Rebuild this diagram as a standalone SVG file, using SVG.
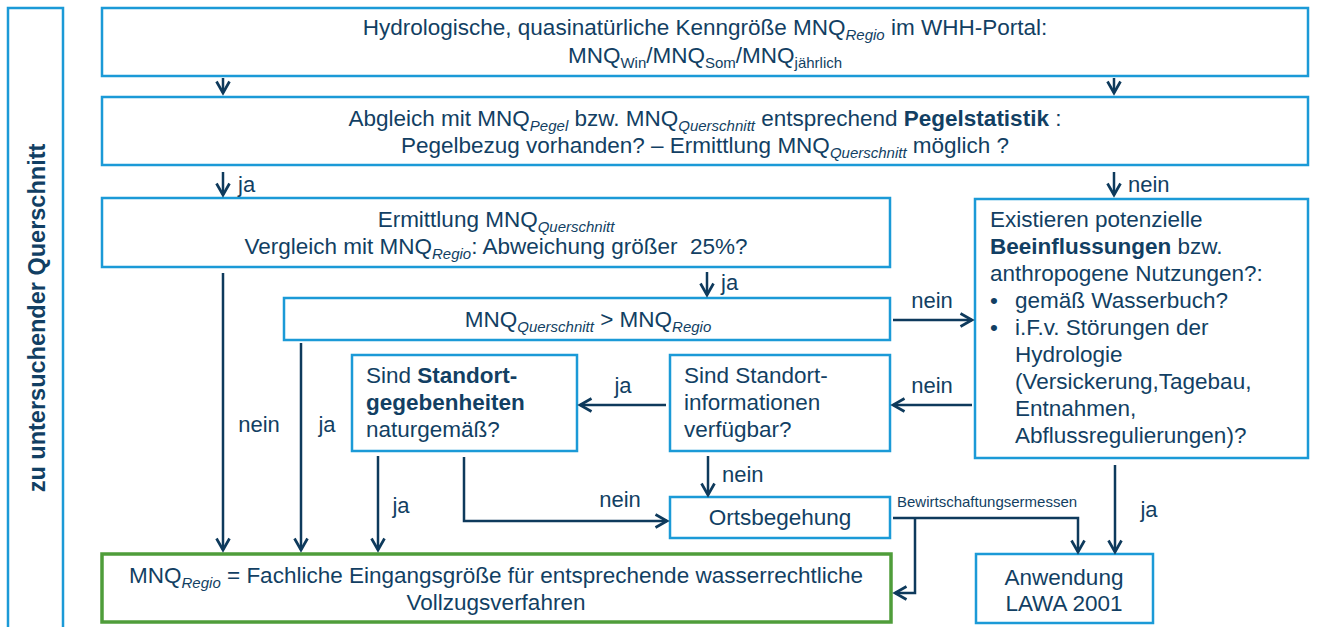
<svg xmlns="http://www.w3.org/2000/svg" width="1317" height="627" viewBox="0 0 1317 627">
<style>
.box{fill:#fff;stroke:#1b9ad7;stroke-width:2.5}
.green{fill:#fff;stroke:#4f9d3a;stroke-width:3.5}
text{font-family:"Liberation Sans",Arial,sans-serif;font-size:22.5px;fill:#123f63}
.c{text-anchor:middle}
.sub{font-size:15px}
.i{font-style:italic}
.b{font-weight:bold}
.side{font-size:23.5px}
.lbl{font-size:22px}
.small{font-size:15px}
.con path,.con line,.con polyline{fill:none;stroke:#0e3a5c;stroke-width:2.5}
</style>
<defs>
<marker id="ah" markerUnits="userSpaceOnUse" markerWidth="18" markerHeight="18" refX="13" refY="8" orient="auto">
<path d="M1.5,1.5 L13,8 L1.5,14.5" fill="none" stroke="#0e3a5c" stroke-width="2.7"/>
</marker>
</defs>

<g id="side">
<rect x="8" y="8" width="55" height="640" class="box"/>
<text class="b side" transform="translate(45,318) rotate(-90)" text-anchor="middle">zu untersuchender Querschnitt</text>
</g>

<g id="n1">
<rect x="102" y="8" width="1206" height="68" class="box"/>
<text class="c" x="705" y="35">Hydrologische, quasinatürliche Kenngröße MNQ<tspan class="sub i" dy="5">Regio</tspan><tspan dy="-5"> im WHH-Portal:</tspan></text>
<text class="c" x="705" y="63">MNQ<tspan class="sub" dy="5">Win</tspan><tspan dy="-5">/MNQ</tspan><tspan class="sub" dy="5">Som</tspan><tspan dy="-5">/MNQ</tspan><tspan class="sub" dy="5">jährlich</tspan></text>
</g>

<g id="n2">
<rect x="102" y="97" width="1206" height="68" class="box"/>
<text class="c" x="705" y="126">Abgleich mit MNQ<tspan class="sub i" dy="5">Pegel</tspan><tspan dy="-5"> bzw. MNQ</tspan><tspan class="sub i" dy="5">Querschnitt</tspan><tspan dy="-5"> entsprechend </tspan><tspan class="b">Pegelstatistik</tspan> :</text>
<text class="c" x="705" y="153">Pegelbezug vorhanden? – Ermittlung MNQ<tspan class="sub i" dy="5">Querschnitt</tspan><tspan dy="-5"> möglich ?</tspan></text>
</g>

<g id="n3">
<rect x="102" y="198" width="788" height="69" class="box"/>
<text class="c" x="496" y="227">Ermittlung MNQ<tspan class="sub i" dy="5">Querschnitt</tspan></text>
<text class="c" x="496" y="254" xml:space="preserve">Vergleich mit MNQ<tspan class="sub i" dy="5">Regio</tspan><tspan dy="-5">: Abweichung größer  25%?</tspan></text>
</g>

<g id="n4">
<rect x="975" y="199" width="333" height="259" class="box"/>
<text x="990" y="227">Existieren potenzielle</text>
<text x="990" y="254"><tspan class="b">Beeinflussungen</tspan> bzw.</text>
<text x="990" y="281">anthropogene Nutzungen?:</text>
<text x="990" y="308">•</text><text x="1015" y="308">gemäß Wasserbuch?</text>
<text x="990" y="335">•</text><text x="1015" y="335">i.F.v. Störungen der</text>
<text x="1015" y="362">Hydrologie</text>
<text x="1015" y="389">(Versickerung,Tagebau,</text>
<text x="1015" y="416">Entnahmen,</text>
<text x="1015" y="443">Abflussregulierungen)?</text>
</g>

<g id="n5">
<rect x="284" y="298" width="606" height="42" class="box"/>
<text class="c" x="588" y="327">MNQ<tspan class="sub i" dy="5">Querschnitt</tspan><tspan dy="-5"> &gt; MNQ</tspan><tspan class="sub i" dy="5">Regio</tspan></text>
</g>

<g id="n6">
<rect x="352" y="355" width="225" height="96" class="box"/>
<text x="366" y="383">Sind <tspan class="b">Standort-</tspan></text>
<text x="366" y="410" class="b">gegebenheiten</text>
<text x="366" y="437">naturgemäß?</text>
</g>

<g id="n7">
<rect x="670" y="355" width="220" height="96" class="box"/>
<text x="684" y="383">Sind Standort-</text>
<text x="684" y="410">informationen</text>
<text x="684" y="437">verfügbar?</text>
</g>

<g id="n8">
<rect x="670" y="497" width="220" height="41" class="box"/>
<text class="c" x="780" y="525">Ortsbegehung</text>
</g>

<g id="n9">
<rect x="102" y="554" width="789" height="68" class="green"/>
<text class="c" x="496" y="583">MNQ<tspan class="sub i" dy="5">Regio</tspan><tspan dy="-5"> = Fachliche Eingangsgröße für entsprechende wasserrechtliche</tspan></text>
<text class="c" x="496" y="610">Vollzugsverfahren</text>
</g>

<g id="n10">
<rect x="976" y="554" width="177" height="69" class="box"/>
<text class="c" x="1064" y="585">Anwendung</text>
<text class="c" x="1064" y="611">LAWA 2001</text>
</g>

<g id="connectors" class="con">
<line x1="223" y1="78" x2="223" y2="93" marker-end="url(#ah)"/>
<line x1="1114" y1="78" x2="1114" y2="93" marker-end="url(#ah)"/>
<line x1="223" y1="172" x2="223" y2="195" marker-end="url(#ah)"/>
<line x1="1114" y1="172" x2="1114" y2="195" marker-end="url(#ah)"/>
<line x1="707" y1="272" x2="707" y2="295" marker-end="url(#ah)"/>
<line x1="893" y1="320" x2="972" y2="320" marker-end="url(#ah)"/>
<line x1="972" y1="405" x2="893" y2="405" marker-end="url(#ah)"/>
<line x1="666" y1="405" x2="580" y2="405" marker-end="url(#ah)"/>
<line x1="708" y1="456" x2="708" y2="495" marker-end="url(#ah)"/>
<polyline points="464,457 464,521 667,521" marker-end="url(#ah)"/>
<line x1="223" y1="273" x2="223" y2="550" marker-end="url(#ah)"/>
<line x1="301" y1="343" x2="301" y2="550" marker-end="url(#ah)"/>
<line x1="378" y1="456" x2="378" y2="550" marker-end="url(#ah)"/>
<polyline points="893,518 1078,518 1078,552" marker-end="url(#ah)"/>
<polyline points="915,518 915,593 895,593" marker-end="url(#ah)"/>
<line x1="1115" y1="465" x2="1115" y2="552" marker-end="url(#ah)"/>
<text class="lbl" x="238" y="192">ja</text>
<text class="lbl" x="1128" y="192">nein</text>
<text class="lbl" x="721" y="290">ja</text>
<text class="lbl c" x="932" y="308">nein</text>
<text class="lbl c" x="932" y="393">nein</text>
<text class="lbl c" x="623" y="393">ja</text>
<text class="lbl" x="722" y="482">nein</text>
<text class="lbl c" x="620" y="507">nein</text>
<text class="lbl c" x="259" y="432">nein</text>
<text class="lbl c" x="327" y="432">ja</text>
<text class="lbl c" x="401" y="513">ja</text>
<text class="lbl c" x="1149" y="517">ja</text>
<text class="small" x="897" y="507">Bewirtschaftungsermessen</text>
</g>
</svg>
